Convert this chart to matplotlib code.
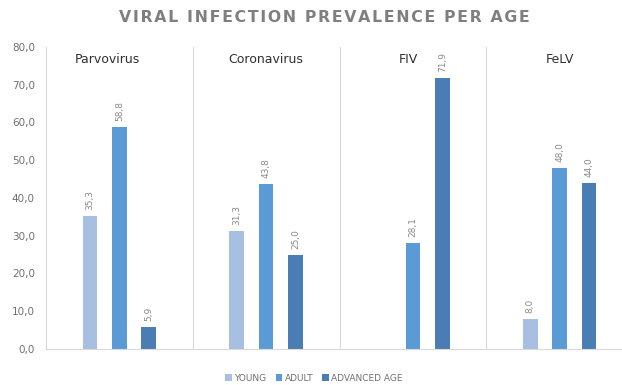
import matplotlib.pyplot as plt
import numpy as np

viruses = ['Parvovirus', 'Coronavirus', 'FIV', 'FeLV']
groups = ['YOUNG', 'ADULT', 'ADVANCED AGE']
young = [35.3, 31.3, 0.0, 8.0]
adult = [58.8, 43.8, 28.1, 48.0]
advanced = [5.9, 25.0, 71.9, 44.0]
colors = ['#a7c0e2', '#5b9bd5', '#4a7db3']
yticks = [0, 10, 20, 30, 40, 50, 60, 70, 80]
title = 'VIRAL INFECTION PREVALENCE PER AGE'

fig = plt.figure(figsize=(6.22, 3.85), dpi=100)
ax = fig.add_axes([0.074, 0.0935, 0.926, 0.7845])

x = np.arange(len(viruses))
w = 0.1
for i, (vals, col) in enumerate(zip([young, adult, advanced], colors)):
    pos = x + (i - 1) * 0.2
    ax.bar(pos, vals, width=w, color=col, label=groups[i])
    for p, v in zip(pos, vals):
        if v > 0:
            ax.annotate(f'{v:.1f}'.replace('.', ','), (p, v), xytext=(0, 4),
                        textcoords='offset points', rotation=90,
                        ha='center', va='bottom', fontsize=6.5, color='#8a8a8a')

for b in [0.5, 1.5, 2.5]:
    ax.axvline(b, color='#d9d9d9', lw=0.8)
name_shift = [-0.08, 0, -0.03, 0]
for i, name in enumerate(viruses):
    ax.text(i + name_shift[i], 78.5, name, ha='center', va='top', fontsize=9, color='#303030')

ax.set_xlim(-0.5, 3.425)
ax.set_ylim(0, 80)
ax.set_yticks(yticks)
ax.set_yticklabels([f'{t:.1f}'.replace('.', ',') for t in yticks], fontsize=7.5, color='#707070')
ax.set_xticks([])
for s in ['top', 'right']:
    ax.spines[s].set_visible(False)
ax.spines['left'].set_color('#d9d9d9')
ax.spines['bottom'].set_color('#d9d9d9')
ax.tick_params(axis='y', length=0, pad=8)

# spaced-out title letters
spaced = '\u200a'.join(title)
fig.text(0.522, 0.955, spaced, ha='center', va='center', fontsize=11.3,
         fontweight='bold', color='#7f7f7f')

fig.legend(loc='lower center', bbox_to_anchor=(0.505, -0.015), ncol=3, frameon=False,
           fontsize=6.5, handlelength=0.7, handleheight=0.7, handletextpad=0.3,
           columnspacing=1.0, labelcolor='#707070')

fig.savefig('out.png', dpi=100)
